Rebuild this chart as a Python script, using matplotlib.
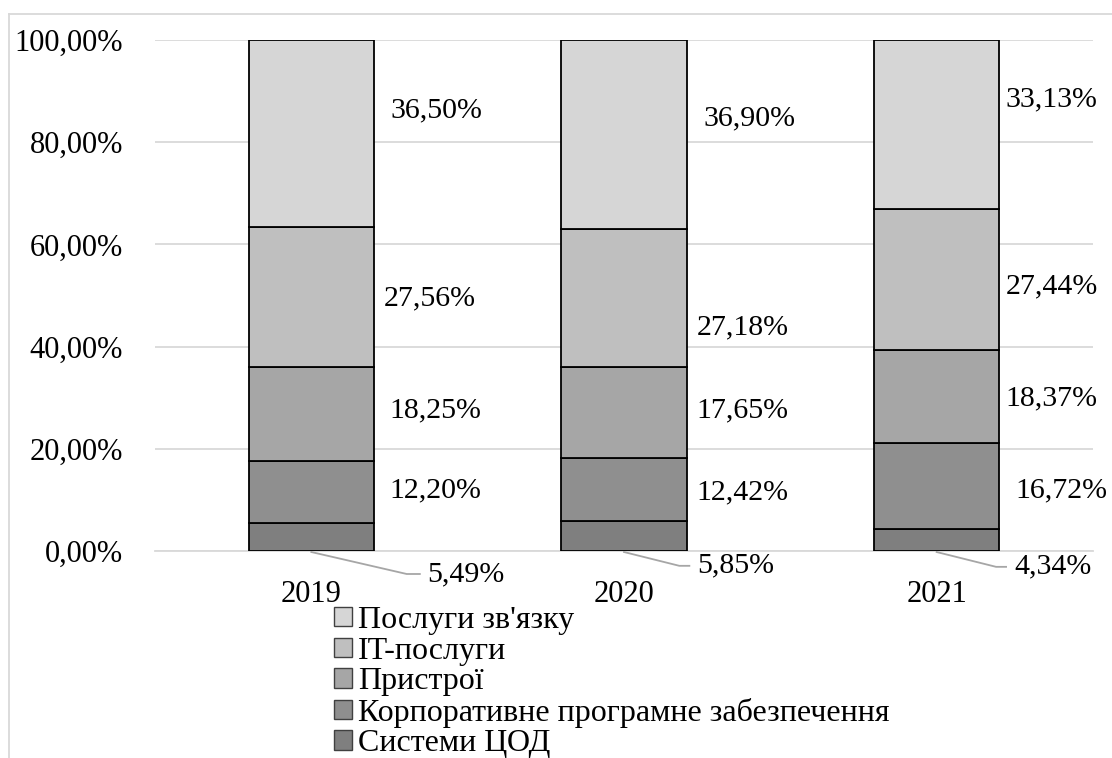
import matplotlib
matplotlib.use("Agg")
import matplotlib.pyplot as plt
from matplotlib.patches import Patch
from matplotlib.lines import Line2D
import numpy as np

# ---- data (percent shares) ----
years = ["2019", "2020", "2021"]
series_names = [
    "Системи ЦОД",
    "Корпоративне програмне забезпечення",
    "Пристрої",
    "IT-послуги",
    "Послуги зв'язку",
]
dc_systems = [5.49, 5.85, 4.34]
enterprise_sw = [12.20, 12.42, 16.72]
devices = [18.25, 17.65, 18.37]
it_services = [27.56, 27.18, 27.44]
telecom = [36.50, 36.90, 33.13]
y_ticks = [0, 20, 40, 60, 80, 100]

# ---- styling ----
colors = ["#7f7f7f", "#8f8f8f", "#a6a6a6", "#bfbfbf", "#d6d6d6"]
FONT = "Liberation Serif"
FS = 21.5
FS_TICK = 22
FS_LEG = 23
plt.rcParams["font.family"] = [FONT, "DejaVu Serif"]

# label placement (x offset from bar centre, y in axis percent) for the upper four
# series, ordered bottom to top
label_dx = [
    [0.396, 0.396, 0.38, 0.40],
    [0.377, 0.377, 0.38, 0.40],
    [0.40, 0.367, 0.367, 0.367],
]
label_y = [
    [11.9, 27.6, 49.5, 86.3],
    [11.5, 27.6, 43.8, 84.7],
    [11.9, 29.9, 51.7, 88.3],
]
# callout geometry for the bottom series: (elbow x offset, end x offset, y)
callouts = [(0.305, 0.347, -4.5), (0.177, 0.209, -2.9), (0.19, 0.222, -3.1)]

series = [dc_systems, enterprise_sw, devices, it_services, telecom]

fig = plt.figure(figsize=(11.12, 7.58), dpi=100)
ax = fig.add_axes([155 / 1112, 1 - 551 / 758, (1093 - 155) / 1112, (551 - 40) / 758])

x = np.arange(len(years))
bottom = np.zeros(len(years))
handles = []
for vals, name, col in zip(series, series_names, colors):
    ax.bar(x, vals, width=0.40, bottom=bottom, color=col, edgecolor="black",
           linewidth=1.3, zorder=3)
    handles.append(Patch(facecolor=col, edgecolor="#404040", linewidth=1.0, label=name))
    bottom += np.array(vals)

# value labels
for i in range(len(years)):
    for k in range(1, 5):
        v = series[k][i]
        ax.text(x[i] + label_dx[i][k - 1], label_y[i][k - 1], f"{v:.2f}%".replace(".", ","),
                ha="center", va="center", fontsize=FS, color="black", zorder=5)
    # callout for the thin bottom segment
    ex, tx, cy = callouts[i]
    ax.plot([x[i], x[i] + ex, x[i] + tx], [-0.2, cy, cy], color="#a6a6a6",
            linewidth=1.3, clip_on=False, zorder=4)
    ax.text(x[i] + tx + 0.025, cy, f"{dc_systems[i]:.2f}%".replace(".", ","),
            ha="left", va="center", fontsize=FS, color="black", clip_on=False)

ax.set_xlim(-0.5, 2.5)
ax.set_ylim(0, 100)
ax.set_yticks(y_ticks)
ax.set_yticklabels([f"{t:.2f}%".replace(".", ",") for t in y_ticks], fontsize=FS_TICK)
ax.set_xticks(x)
ax.set_xticklabels(years, fontsize=FS_TICK)
ax.tick_params(axis="both", length=0)
ax.tick_params(axis="y", pad=23)
ax.tick_params(axis="x", pad=21)
ax.grid(axis="y", color="#d9d9d9", linewidth=1.3, zorder=0)
for s in ["top", "right", "left"]:
    ax.spines[s].set_visible(False)
ax.spines["bottom"].set_color("#d9d9d9")
ax.spines["bottom"].set_linewidth(1.3)

leg = fig.legend(handles=handles[::-1], loc="upper left",
                 bbox_to_anchor=(334 / 1112, 1 - 606 / 758), frameon=False,
                 fontsize=FS_LEG, handlelength=0.55, handleheight=0.55,
                 handletextpad=0.2, labelspacing=0.05, borderpad=0.0,
                 borderaxespad=0.0)

# chart frame (top and left edges)
fig.add_artist(Line2D([8.5 / 1112, 1.0], [1 - 13.5 / 758, 1 - 13.5 / 758],
                      transform=fig.transFigure, color="#d9d9d9", linewidth=1.3))
fig.add_artist(Line2D([8.5 / 1112, 8.5 / 1112], [0.0, 1 - 13.5 / 758],
                      transform=fig.transFigure, color="#d9d9d9", linewidth=1.3))

fig.savefig("out.png", dpi=100, facecolor="white")
